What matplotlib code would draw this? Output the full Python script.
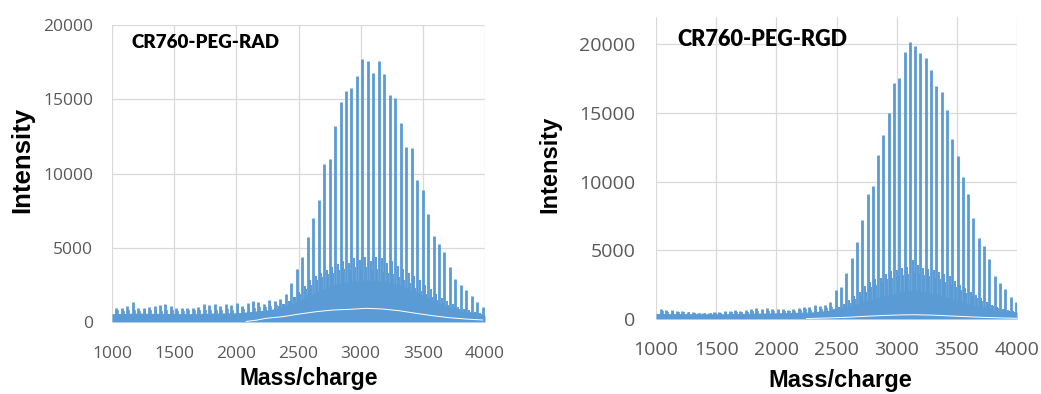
import matplotlib
matplotlib.use("Agg")
import matplotlib.pyplot as plt

# ---------------- data ----------------
# CR760-PEG-RAD: main PEG ladder (m/z, intensity)
rad_mz = [1034, 1078, 1122, 1166, 1210, 1254, 1298, 1342, 1386, 1430,
          1474, 1518, 1562, 1606, 1650, 1694, 1738, 1782, 1826, 1870,
          1914, 1958, 2002, 2046, 2090, 2134, 2178, 2222, 2266, 2310,
          2354, 2398, 2442, 2486, 2530, 2574, 2618, 2662, 2706, 2750,
          2794, 2838, 2882, 2926, 2970, 3014, 3058, 3102, 3146, 3190,
          3234, 3278, 3322, 3366, 3410, 3454, 3498, 3542, 3586, 3630,
          3674, 3718, 3762, 3806, 3850, 3894, 3938, 3982]
rad_int = [964, 920, 1100, 1323, 920, 964, 1032, 1100, 1144, 1190,
           1100, 964, 960, 970, 920, 1030, 1190, 1140, 1190, 1100,
           1190, 1140, 1256, 1100, 1256, 1440, 1350, 1200, 1480, 1400,
           1560, 1900, 2645, 3567, 4395, 5741, 6979, 8211, 10633, 10950,
           13211, 14827, 15568, 15726, 16556, 17700, 17590, 16735, 17565, 16668,
           15277, 15095, 13413, 11798, 11730, 9557, 8884, 7268, 5788, 5249,
           4731, 3722, 2874, 2490, 2154, 1750, 1366, 1030]
# secondary ladder between the main peaks
rad_sec_mz = [2376, 2420, 2464, 2508, 2552, 2596, 2640, 2684, 2728, 2772,
              2816, 2860, 2904, 2948, 2992, 3036, 3080, 3124, 3168, 3212,
              3256, 3300, 3344, 3388, 3432, 3476, 3520, 3564, 3608, 3652,
              3696, 3740, 3784, 3828, 3872, 3916, 3960]
rad_sec_int = [1200, 1400, 1700, 2000, 2400, 2800, 3100, 3300, 3500, 3700,
               3900, 4100, 4000, 4300, 4200, 4400, 4100, 4400, 4300, 4000,
               4100, 3800, 3600, 3300, 3100, 2800, 2500, 2200, 1900, 1600,
               1400, 1200, 1000, 900, 800, 700, 600]
# third ladder, just ahead of each main peak
rad_ter_mz = [2340, 2384, 2428, 2472, 2516, 2560, 2604, 2648, 2692, 2736,
              2780, 2824, 2868, 2912, 2956, 3000, 3044, 3088, 3132, 3176,
              3220, 3264, 3308, 3352, 3396, 3440, 3484, 3528, 3572, 3616,
              3660, 3704, 3748, 3792, 3836, 3880, 3924, 3968]
rad_ter_int = [1100, 1200, 1400, 1650, 1900, 2200, 2500, 2800, 3000, 3200,
               3300, 3500, 3600, 3500, 3700, 3600, 3700, 3500, 3600, 3400,
               3300, 3200, 3000, 2800, 2600, 2300, 2100, 1900, 1700, 1500,
               1300, 1150, 1000, 900, 800, 700, 620, 550]
# short companions of the low-mass teeth
rad_low_mz = [1049, 1093, 1137, 1181, 1225, 1269, 1313, 1357, 1401, 1445,
              1489, 1533, 1577, 1621, 1665, 1709, 1753, 1797, 1841, 1885,
              1929, 1973, 2017, 2061, 2105, 2149, 2193, 2237, 2281, 2325]
rad_low_int = [780, 760, 800, 820, 760, 780, 800, 780, 760, 800,
               780, 760, 760, 780, 800, 820, 840, 800, 820, 840,
               860, 840, 880, 900, 920, 960, 1000, 1040, 1100, 1150]
# dense low-level signal (upper edge) and its minimum trace
rad_band_mz = [1000, 1200, 1400, 1600, 1800, 2000, 2107, 2250, 2375, 2509,
               2643, 2776, 2910, 3017, 3177, 3311, 3445, 3579, 3713, 3846, 4000]
rad_band_int = [560, 600, 580, 560, 600, 620, 700, 820, 990, 1480,
                2040, 2490, 2710, 2830, 2780, 2490, 2040, 1480, 990, 700, 450]
rad_floor_mz = [2080, 2160, 2240, 2375, 2509, 2643, 2776, 2910, 3044, 3177,
                3311, 3445, 3579, 3713, 3846, 3980]
rad_floor_int = [40, 120, 250, 360, 540, 695, 807, 852, 920, 875,
                 760, 585, 425, 290, 200, 135]

# CR760-PEG-RGD
rgd_mz = [1042, 1086, 1130, 1174, 1218, 1262, 1306, 1350, 1394, 1438,
          1482, 1526, 1570, 1614, 1658, 1702, 1746, 1790, 1834, 1878,
          1922, 1966, 2010, 2054, 2098, 2142, 2186, 2230, 2274, 2318,
          2362, 2406, 2450, 2494, 2538, 2582, 2626, 2670, 2714, 2758,
          2802, 2846, 2890, 2934, 2978, 3022, 3066, 3110, 3154, 3198,
          3242, 3286, 3330, 3374, 3418, 3462, 3506, 3550, 3594, 3638,
          3682, 3726, 3770, 3814, 3858, 3902, 3946, 3990]
rgd_int = [700, 650, 620, 560, 600, 520, 540, 470, 430, 420,
           500, 540, 560, 600, 620, 600, 680, 720, 780, 700,
           820, 760, 720, 700, 650, 700, 780, 900, 850, 1020,
           950, 1020, 1260, 2108, 2350, 3368, 4460, 5598, 7245, 9088,
           9670, 11971, 13424, 15000, 17210, 17545, 19480, 20160, 19920, 19390,
           19000, 18150, 16960, 16525, 15190, 13135, 11850, 10345, 9088, 7365,
           5865, 5307, 4340, 3126, 2595, 2159, 1621, 1258]
rgd_sec_mz = [2516, 2560, 2604, 2648, 2692, 2736, 2780, 2824, 2868, 2912,
              2956, 3000, 3044, 3088, 3132, 3176, 3220, 3264, 3308, 3352,
              3396, 3440, 3484, 3528, 3572, 3616, 3660, 3704, 3748, 3792,
              3836, 3880, 3924, 3968]
rgd_sec_int = [900, 1100, 1400, 1700, 2000, 2400, 2700, 2900, 3000, 3300,
               3500, 3600, 3700, 3800, 4300, 3900, 3750, 3650, 3550, 3450,
               3300, 3100, 2800, 2500, 2250, 2000, 1750, 1500, 1250, 1050,
               900, 750, 650, 550]
rgd_ter_mz = [2480, 2524, 2568, 2612, 2656, 2700, 2744, 2788, 2832, 2876,
              2920, 2964, 3008, 3052, 3096, 3140, 3184, 3228, 3272, 3316,
              3360, 3404, 3448, 3492, 3536, 3580, 3624, 3668, 3712, 3756,
              3800, 3844, 3888, 3932, 3976]
rgd_ter_int = [750, 850, 1000, 1200, 1450, 1700, 2000, 2300, 2500, 2700,
               2900, 3000, 3100, 3200, 3300, 3350, 3300, 3200, 3100, 3000,
               2900, 2700, 2500, 2300, 2100, 1900, 1700, 1500, 1300, 1100,
               950, 800, 700, 600, 520]
rgd_low_mz = [1057, 1101, 1145, 1189, 1233, 1277, 1321, 1365, 1409, 1453,
              1497, 1541, 1585, 1629, 1673, 1717, 1761, 1805, 1849, 1893,
              1937, 1981, 2025, 2069, 2113, 2157, 2201, 2245, 2289, 2333,
              2377, 2421, 2465]
rgd_low_int = [560, 540, 520, 500, 500, 480, 470, 450, 430, 430,
               450, 470, 480, 500, 520, 520, 540, 560, 580, 560,
               600, 580, 580, 560, 560, 600, 640, 700, 680, 760,
               760, 820, 900]
rgd_band_mz = [1000, 1500, 2000, 2300, 2450, 2600, 2750, 2900, 3050, 3150,
               3300, 3450, 3600, 3750, 3900, 4000]
rgd_band_int = [400, 380, 450, 520, 650, 900, 1300, 1700, 2000, 2100,
                1900, 1500, 1100, 800, 600, 500]
rgd_floor_mz = [2250, 2450, 2600, 2750, 2900, 3050, 3150, 3300, 3450, 3600,
                3750, 3900, 4000]
rgd_floor_int = [30, 80, 130, 200, 260, 300, 310, 280, 220, 160, 110, 70, 50]

x_ticks = [1000, 1500, 2000, 2500, 3000, 3500, 4000]
y_ticks = [0, 5000, 10000, 15000, 20000]

# ---------------- drawing ----------------
W, H = 1041, 394
BLUE = "#5B9BD5"
GRID = "#D9D9D9"
TICK = "#595959"

fig = plt.figure(figsize=(W / 100, H / 100), dpi=100)


def px_rect(x0, y_top, x1, y_bot):
    return [x0 / W, 1 - y_bot / H, (x1 - x0) / W, (y_bot - y_top) / H]


def spectrum(rect, ymax, mz, inten, smz, sint, tmz, tint, lmz, lint,
             bmz, bint, fmz, fint, tick_fs, ypad, xpad):
    ax = fig.add_axes(rect)
    ax.set_xlim(1000, 4000)
    ax.set_ylim(0, ymax)
    ax.set_xticks(x_ticks)
    ax.set_yticks(y_ticks)
    ax.grid(True, color=GRID, lw=0.9, zorder=0)
    ax.set_axisbelow(True)
    for s in ax.spines.values():
        s.set_visible(False)
    ax.tick_params(length=0, colors=TICK, labelsize=tick_fs)
    ax.tick_params(axis="y", pad=ypad)
    ax.tick_params(axis="x", pad=xpad)
    for lab in ax.get_xticklabels() + ax.get_yticklabels():
        lab.set_fontfamily("Open Sans")

    ax.fill_between(bmz, 0, bint, color=BLUE, lw=0, zorder=2)
    ax.vlines(lmz, 0, lint, color=BLUE, lw=1.2, zorder=3)
    ax.vlines(tmz, 0, tint, color=BLUE, lw=1.4, zorder=3)
    ax.vlines(smz, 0, sint, color=BLUE, lw=1.4, zorder=3)
    ax.vlines(mz, 0, inten, color=BLUE, lw=2.0, zorder=3)
    ax.plot(fmz, fint, color="white", lw=0.7, zorder=4)
    return ax


ax1 = spectrum(px_rect(112, 25, 485, 322), 20000,
               rad_mz, rad_int, rad_sec_mz, rad_sec_int,
               rad_ter_mz, rad_ter_int, rad_low_mz, rad_low_int,
               rad_band_mz, rad_band_int, rad_floor_mz, rad_floor_int,
               12.5, 13.5, 17)
ax2 = spectrum(px_rect(656, 17, 1017, 319), 22000,
               rgd_mz, rgd_int, rgd_sec_mz, rgd_sec_int,
               rgd_ter_mz, rgd_ter_int, rgd_low_mz, rgd_low_int,
               rgd_band_mz, rgd_band_int, rgd_floor_mz, rgd_floor_int,
               14, 15, 16)


def ftext(x, y, s, **kw):
    fig.text(x / W, 1 - y / H, s, ha="center", va="center", **kw)


label_font = dict(family="Liberation Sans", weight="bold", color="black")
ftext(22, 160, "Intensity", rotation=90, fontsize=18.5, **label_font)
ftext(550, 164, "Intensity", rotation=90, fontsize=17, **label_font)
ftext(309, 379, "Mass/charge", fontsize=16.5, **label_font)
ftext(840, 380, "Mass/charge", fontsize=17, **label_font)

title_font = dict(family="Lato", weight="heavy", color="black")
ftext(206, 43, "CR760-PEG-RAD", fontsize=13.5, **title_font)
ftext(762, 39, "CR760-PEG-RGD", fontsize=15.6, **title_font)

fig.savefig("out.png", dpi=100)
